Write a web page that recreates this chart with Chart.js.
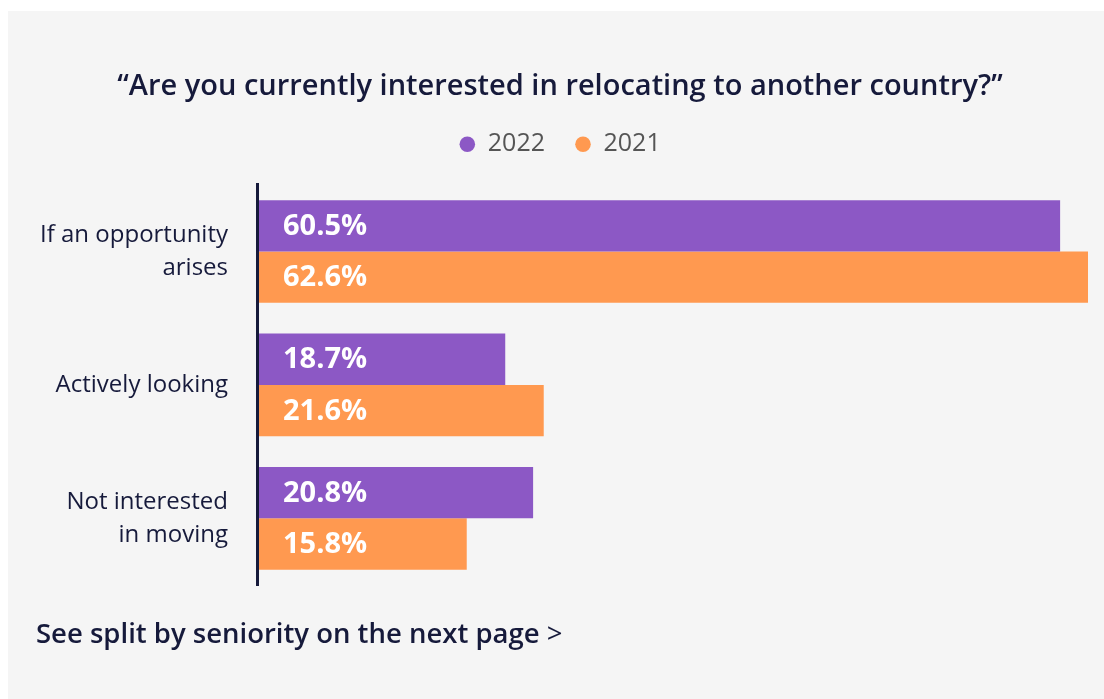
<!DOCTYPE html>
<html>
<head>
<meta charset="utf-8">
<script src="https://cdn.jsdelivr.net/npm/chart.js@4"></script>
<style>
  html, body { margin: 0; padding: 0; background: #fff; width: 1104px; height: 699px; overflow: hidden; }
  #panel { position: absolute; left: 8px; top: 11px; width: 1096px; height: 688px; background: #f5f5f5; }
  #chart { position: absolute; left: 0; top: 0; }
  #note { position: absolute; left: 28px; top: 603px; font-family: "Open Sans", sans-serif;
    font-weight: 600; font-size: 27.5px; color: #161a3b; white-space: nowrap; }
  #note span { font-weight: 400; }
</style>
</head>
<body>
<div id="panel">
  <canvas id="chart" width="1096" height="688"></canvas>
  <div id="note">See split by seniority on the next page <span>&gt;</span></div>
</div>
<script>
// answers to "relocating" question, 2022 vs 2021
const categories = [["If an opportunity", "arises"], "Actively looking", ["Not interested", "in moving"]];
const years = ["2022", "2021"];
const values2022 = [60.5, 18.7, 20.8];
const values2021 = [62.6, 21.6, 15.8];

const NAVY = "#161a3b";
const PURPLE = "#8c58c5";
const ORANGE = "#ff9950";
const FONT = "'Open Sans', sans-serif";

// white % labels just inside the bar start
const barLabels = {
  id: "barLabels",
  afterDatasetsDraw(chart) {
    const ctx = chart.ctx;
    ctx.save();
    ctx.font = "700 29px " + FONT;
    ctx.fillStyle = "#fff";
    ctx.textAlign = "left";
    ctx.textBaseline = "middle";
    chart.data.datasets.forEach((ds, i) => {
      chart.getDatasetMeta(i).data.forEach((bar, j) => {
        ctx.fillText(ds.data[j].toFixed(1) + "%", bar.base + 26, bar.y + 1);
      });
    });
    ctx.restore();
  },
};

// extra gap under the legend without spreading the legend items
const legendGap = {
  id: "legendGap",
  afterInit(chart) {
    const lg = chart.legend;
    if (!lg || lg._gapPatched) return;
    const fit = lg.fit.bind(lg);
    lg.fit = function () { fit(); this.height += 18; };
    lg._gapPatched = true;
  },
};

new Chart(document.getElementById("chart"), {
  type: "bar",
  data: {
    labels: categories,
    datasets: [
      { label: years[0], data: values2022, backgroundColor: PURPLE },
      { label: years[1], data: values2021, backgroundColor: ORANGE },
    ],
  },
  options: {
    indexAxis: "y",
    responsive: false,
    animation: false,
    layout: { padding: { top: 0, right: 16, bottom: 114, left: 24 } },
    datasets: { bar: { categoryPercentage: 0.77, barPercentage: 1, borderWidth: 0 } },
    plugins: {
      title: {
        display: true,
        text: "\u201cAre you currently interested in relocating to another country?\u201d",
        color: NAVY,
        font: { family: FONT, size: 29, weight: "600" },
        padding: { top: 58, bottom: -2 },
      },
      legend: {
        display: true,
        labels: {
          usePointStyle: true, pointStyle: "circle", boxWidth: 16, boxHeight: 11,
          color: "#555", font: { family: FONT, size: 25 }, padding: 30,
        },
      },
      tooltip: { enabled: false },
    },
    scales: {
      x: { display: false, min: 0, max: 62.6 },
      y: {
        grid: { display: false },
        border: { display: true, color: NAVY, width: 3, z: 1 },
        ticks: { color: NAVY, font: { family: FONT, size: 24, lineHeight: 1.38 }, padding: 21 },
        afterFit(scale) { scale.width = 225; },
      },
    },
  },
  plugins: [barLabels, legendGap],
});
</script>
</body>
</html>
